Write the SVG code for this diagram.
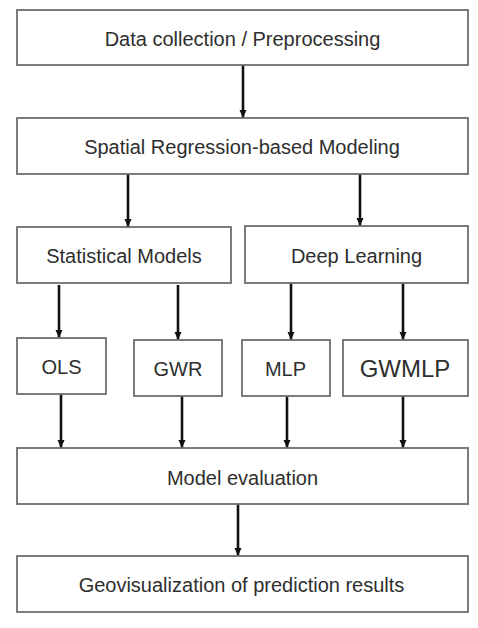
<svg xmlns="http://www.w3.org/2000/svg" width="478" height="628" viewBox="0 0 478 628">
<style>
.box{fill:#fff;stroke:#6e6e6e;stroke-width:1.8}
.lbl{font-family:"Liberation Sans",Arial,sans-serif;font-size:20px;fill:#2e2e2e;text-anchor:middle}
.big{font-size:24px}
.conn{stroke:#111;stroke-width:2.6;fill:none;marker-end:url(#ah)}
</style>
<defs>
<marker id="ah" markerUnits="userSpaceOnUse" markerWidth="10" markerHeight="10" refX="8" refY="4" orient="auto">
<path d="M0,0.5 L8,4 L0,7.5 Z" fill="#111"/>
</marker>
</defs>
<rect width="478" height="628" fill="#fff"/>
<g id="connectors">
<line class="conn" x1="243" y1="65" x2="243" y2="118"/>
<line class="conn" x1="128" y1="174" x2="128" y2="227"/>
<line class="conn" x1="360" y1="174" x2="360" y2="226"/>
<line class="conn" x1="59" y1="285" x2="59" y2="338"/>
<line class="conn" x1="178" y1="285" x2="178" y2="340"/>
<line class="conn" x1="291" y1="283" x2="291" y2="340"/>
<line class="conn" x1="403" y1="283" x2="403" y2="340"/>
<line class="conn" x1="61" y1="394" x2="61" y2="448"/>
<line class="conn" x1="182" y1="396" x2="182" y2="448"/>
<line class="conn" x1="287" y1="396" x2="287" y2="448"/>
<line class="conn" x1="403" y1="396" x2="403" y2="448"/>
<line class="conn" x1="238" y1="504" x2="238" y2="556"/>
</g>
<g id="data">
<rect class="box" x="17" y="10" width="451" height="55"/>
<text class="lbl" x="242.5" y="46">Data collection / Preprocessing</text>
</g>
<g id="spatial">
<rect class="box" x="17" y="118" width="451" height="56"/>
<text class="lbl" x="242" y="154">Spatial Regression-based Modeling</text>
</g>
<g id="statistical">
<rect class="box" x="17" y="227" width="214" height="56"/>
<text class="lbl" x="124" y="263">Statistical Models</text>
</g>
<g id="deep">
<rect class="box" x="245" y="226" width="223" height="57"/>
<text class="lbl" x="356.5" y="263">Deep Learning</text>
</g>
<g id="ols">
<rect class="box" x="17" y="338" width="89" height="56"/>
<text class="lbl" x="61.5" y="374">OLS</text>
</g>
<g id="gwr">
<rect class="box" x="134" y="340" width="88" height="56"/>
<text class="lbl" x="178" y="376">GWR</text>
</g>
<g id="mlp">
<rect class="box" x="242" y="340" width="88" height="56"/>
<text class="lbl" x="285.5" y="376">MLP</text>
</g>
<g id="gwmlp">
<rect class="box" x="343" y="340" width="125" height="56"/>
<text class="lbl big" x="405" y="377">GWMLP</text>
</g>
<g id="evaluation">
<rect class="box" x="17" y="448" width="451" height="56"/>
<text class="lbl" x="242.5" y="485">Model evaluation</text>
</g>
<g id="geovis">
<rect class="box" x="17" y="556" width="451" height="56"/>
<text class="lbl" x="241.5" y="592">Geovisualization of prediction results</text>
</g>
</svg>
